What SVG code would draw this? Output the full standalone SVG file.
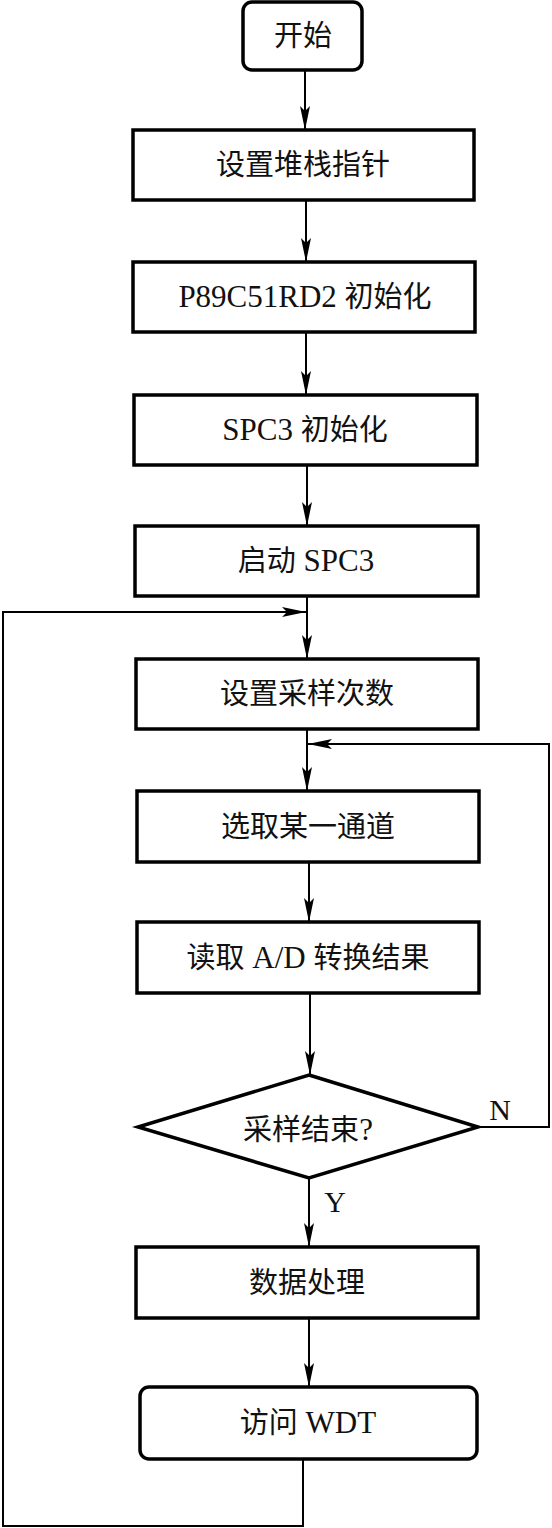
<svg xmlns="http://www.w3.org/2000/svg" width="552" height="1528" viewBox="0 0 552 1528">
<style>
.box{fill:#fff;stroke:#000;stroke-width:3.5}
.t{font-family:"Liberation Serif","Noto Sans CJK SC",serif;font-size:29px;text-anchor:middle;fill:#111}
.l{font-size:31px}
.lbl{font-family:"Liberation Serif",serif;font-size:30px;text-anchor:middle;fill:#111}
.c{fill:none;stroke:#000;stroke-width:2}
</style>
<defs>
<marker id="ah" markerUnits="userSpaceOnUse" viewBox="0 0 24 10" markerWidth="24" markerHeight="10" refX="24" refY="5" orient="auto">
<path d="M0,0 L24,5 L0,10 L5,5 z" fill="#000"/>
</marker>
</defs>
<rect width="552" height="1528" fill="#fff"/>
<g id="connectors">
<path class="c" d="M305,70 V130" marker-end="url(#ah)"/>
<path class="c" d="M306,200 V262" marker-end="url(#ah)"/>
<path class="c" d="M306,332 V395" marker-end="url(#ah)"/>
<path class="c" d="M307,465 V526" marker-end="url(#ah)"/>
<path class="c" d="M307,596 V659" marker-end="url(#ah)"/>
<path class="c" d="M307,729 V791" marker-end="url(#ah)"/>
<path class="c" d="M309,862 V922" marker-end="url(#ah)"/>
<path class="c" d="M310,993 V1075" marker-end="url(#ah)"/>
<path class="c" d="M309,1178 V1247" marker-end="url(#ah)"/>
<path class="c" d="M309,1318 V1387" marker-end="url(#ah)"/>
<path class="c" d="M478,1127 H549 V744 H308" stroke-width="2.5" marker-end="url(#ah)"/>
<path class="c" d="M303,1459 V1526 H3 V612 H306" stroke-width="2.5" marker-end="url(#ah)"/>
<text class="lbl" x="500" y="1120">N</text>
<text class="lbl" x="335" y="1212">Y</text>
</g>
<g id="start">
<rect class="box" x="243" y="2" width="119" height="68" rx="9"/>
<text class="t" x="303" y="46">开始</text>
</g>
<g id="n1">
<rect class="box" x="133" y="130" width="341" height="70"/>
<text class="t" x="303" y="175">设置堆栈指针</text>
</g>
<g id="n2">
<rect class="box" x="133" y="262" width="342" height="70"/>
<text class="t" x="305" y="307"><tspan class="l">P89C51RD2 </tspan>初始化</text>
</g>
<g id="n3">
<rect class="box" x="134" y="395" width="343" height="70"/>
<text class="t" x="305" y="440"><tspan class="l">SPC3 </tspan>初始化</text>
</g>
<g id="n4">
<rect class="box" x="135" y="526" width="343" height="70"/>
<text class="t" x="306" y="571">启动<tspan class="l"> SPC3</tspan></text>
</g>
<g id="n5">
<rect class="box" x="136" y="659" width="342" height="70"/>
<text class="t" x="307" y="704">设置采样次数</text>
</g>
<g id="n6">
<rect class="box" x="137" y="791" width="342" height="71"/>
<text class="t" x="308" y="837">选取某一通道</text>
</g>
<g id="n7">
<rect class="box" x="137" y="922" width="342" height="71"/>
<text class="t" x="308" y="968">读取<tspan class="l"> A/D </tspan>转换结果</text>
</g>
<g id="d1">
<polygon class="box" points="309,1075 478,1127 309,1178 138,1127"/>
<text class="t" x="308" y="1140">采样结束<tspan class="l">?</tspan></text>
</g>
<g id="n8">
<rect class="box" x="136" y="1247" width="342" height="71"/>
<text class="t" x="307" y="1293">数据处理</text>
</g>
<g id="n9">
<rect class="box" x="140" y="1387" width="337" height="72" rx="9"/>
<text class="t" x="308" y="1433">访问<tspan class="l"> WDT</tspan></text>
</g>
</svg>
